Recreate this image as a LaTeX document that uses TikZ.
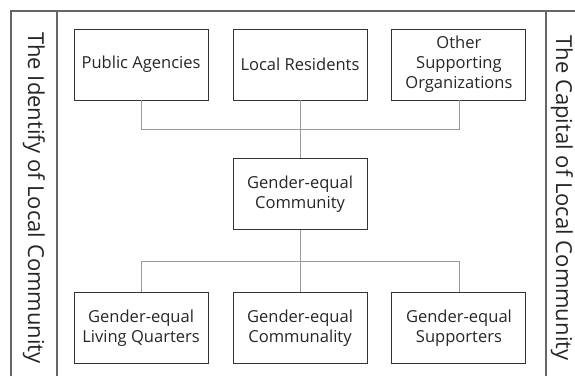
\documentclass[tikz,border=0pt]{standalone}
\usepackage{fontspec}
\setmainfont{Open Sans}
\usepackage{tikz}
\usetikzlibrary{calc, positioning}
\tikzset{%
    frame/.style={%
        draw=black!60,
        line width=0.8pt,
    },
    link/.style={%
        draw=black!40,
        line width=0.6pt,
    },
    unit/.style={%
        rectangle,
        draw=black!80,
        line width=0.7pt,
        minimum width=100.5pt,
        minimum height=53.25pt,
        align=center,
        font=\fontsize{12.4}{15}\selectfont,
        text=black!85,
    },
    side/.style={%
        rotate=-90,
        font=\fontsize{16.5}{18}\selectfont,
        text=black!85,
    },
}

\begin{document}
\begin{tikzpicture}[x=0.75pt, y=-0.75pt]
	\useasboundingbox (0, 0) rectangle (575, 376);
	% \draw[help lines] (0, 0) grid (575, 376);
	\coordinate (top_center) at (300, 64.5);

	\draw[frame] (11, 376) -- (11, 11) -- (575, 11);
	\draw[frame] (57, 11) -- (57, 376);
	\draw[frame] (546, 11) -- (546, 376);

	\node [side] at (34, 198) (identity) {The Identify of Local Community};
	\node [side] at (562, 198) (capital) {The Capital of Local Community};

	\node [unit] at (top_center) (residents) {Local Residents};
	\node [unit, left=18pt of residents] (agencies) {Public Agencies};
	\node [unit, right=18pt of residents] (others) {Other\\Supporting\\Organizations};

	\node [unit, below=43.5pt of residents] (community) {Gender-equal\\Community};

	\node [unit, below=46.5pt of community] (communality) {Gender-equal\\Communality};
	\node [unit, left=18pt of communality] (quarters) {Gender-equal\\Living Quarters};
	\node [unit, right=18pt of communality] (supporters) {Gender-equal\\Supporters};

	\coordinate (bus_top) at ($(residents.south)!0.5!(community.north)$);
	\coordinate (bus_bottom) at ($(community.south)!0.5!(communality.north)$);

	\draw[link] (agencies.south) |- (bus_top) -| (others.south);
	\draw[link] (residents.south) -- (community.north);

	\draw[link] (quarters.north) |- (bus_bottom) -| (supporters.north);
	\draw[link] (community.south) -- (communality.north);
\end{tikzpicture}
\end{document}
